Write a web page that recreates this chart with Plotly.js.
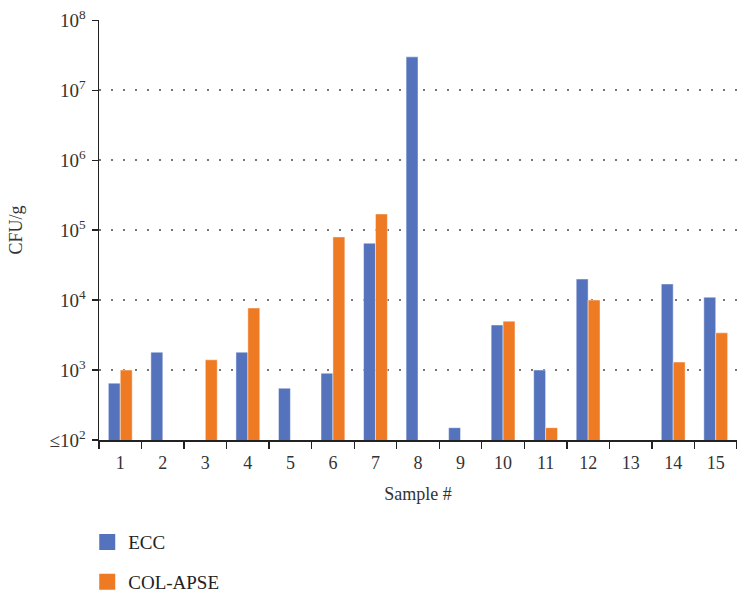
<!DOCTYPE html>
<html>
<head>
<meta charset="utf-8">
<script src="https://cdn.plot.ly/plotly-3.0.1.min.js"></script>
<style>html,body{margin:0;padding:0;background:#fff;}#chart{width:737px;height:598px;}</style>
</head>
<body>
<div id="chart"></div>
<script>
const samples = ["1","2","3","4","5","6","7","8","9","10","11","12","13","14","15"];
const ecc = [650, 1800, null, 1800, 550, 900, 65000, 30000000, 150, 4400, 1000, 20000, null, 17000, 11000];
const colApse = [1000, null, 1400, 7700, null, 80000, 170000, null, null, 5000, 150, 10000, null, 1300, 3400];
const yTickVals = [100, 1000, 10000, 100000, 1000000, 10000000, 100000000];
const yTickText = ["≤10<sup>2</sup>", "10<sup>3</sup>", "10<sup>4</sup>", "10<sup>5</sup>", "10<sup>6</sup>", "10<sup>7</sup>", "10<sup>8</sup>"];
const seriesNames = ["ECC", "COL-APSE"];
const seriesColors = ["#5573BD", "#EE7A23"];

const fontFam = "Liberation Serif, DejaVu Serif, serif";
const traces = [
  {type: "bar", name: seriesNames[0], x: samples, y: ecc, showlegend: false,
   marker: {color: seriesColors[0], line: {color: "rgba(255,255,255,0.45)", width: 1}}},
  {type: "bar", name: seriesNames[1], x: samples, y: colApse, showlegend: false,
   marker: {color: seriesColors[1], line: {color: "rgba(255,255,255,0.45)", width: 1}}},
  // legend-only entries with larger square swatches
  {type: "scatter", mode: "markers", name: seriesNames[0], x: [null], y: [null], legendgroup: "a",
   marker: {symbol: "square", size: 18, color: seriesColors[0]}},
  {type: "scatter", mode: "markers", name: seriesNames[1], x: [null], y: [null], legendgroup: "b",
   marker: {symbol: "square", size: 18, color: seriesColors[1]}}
];
const layout = {
  width: 737, height: 598,
  margin: {l: 99, r: 0, t: 20, b: 158, autoexpand: false},
  paper_bgcolor: "#fff", plot_bgcolor: "#fff",
  font: {family: fontFam, color: "#333", size: 18},
  barmode: "group", bargap: 0.44, bargroupgap: 0,
  showlegend: true,
  legend: {orientation: "v", x: -0.02, xanchor: "left", y: -0.198, yanchor: "top",
           font: {family: fontFam, size: 19, color: "#222"}, tracegroupgap: 12, itemwidth: 32},
  xaxis: {type: "category", tickson: "boundaries", ticks: "outside", ticklen: 7, tickwidth: 1.3, tickcolor: "#222",
          showline: true, linecolor: "#222", linewidth: 1.5, showgrid: false, automargin: false,
          ticklabelstandoff: 6,
          tickfont: {family: fontFam, size: 18, color: "#333"},
          title: {text: "Sample #", font: {family: fontFam, size: 18, color: "#333"}, standoff: 15}},
  yaxis: {type: "log", range: [2, 8.004], tickvals: yTickVals, ticktext: yTickText,
          ticks: "outside", ticklen: 6, tickwidth: 1.3, tickcolor: "#222",
          showline: true, linecolor: "#222", linewidth: 1.5, automargin: false,
          showgrid: true, gridcolor: "#777", gridwidth: 1.5, griddash: "2px,10px",
          zeroline: false, ticklabelstandoff: 2,
          tickfont: {family: fontFam, size: 19, color: "#333"},
          title: {text: "CFU/g", font: {family: fontFam, size: 18, color: "#333"}, standoff: 22}}
};
Plotly.newPlot("chart", traces, layout, {displayModeBar: false, staticPlot: true});
</script>
</body>
</html>
